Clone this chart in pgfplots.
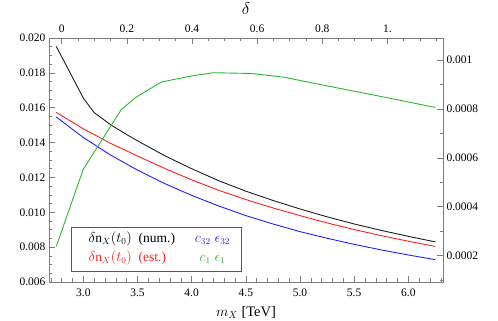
\documentclass[border=0pt]{standalone}
\usepackage{fontspec}
\setmainfont{Liberation Serif}
\usepackage{pgfplots}
\pgfplotsset{compat=1.18}
\definecolor{cgreen}{RGB}{40,185,40}
\definecolor{cred}{RGB}{255,30,30}
\definecolor{cblue}{RGB}{30,30,255}
\definecolor{cblack}{RGB}{30,30,30}
\definecolor{framec}{RGB}{125,125,125}
\pgfplotsset{
  common/.style={
    scale only axis, width=394bp, height=244bp,
    scaled ticks=false,
    axis line style={framec, line width=0.7bp},
    tick style={framec, line width=0.6bp},
    major tick length=6bp, minor tick length=3.5bp,
    tick align=inside,
    /pgf/number format/assume math mode=true,
    ticklabel style={font=\fontsize{11.5bp}{13bp}\selectfont, text=black},
    label style={font=\fontsize{14.5bp}{16bp}\selectfont},
  }
}
\begin{document}
\begin{tikzpicture}
\begin{axis}[common,
  name=main,
  xmin=2.683, xmax=6.32, ymin=0.006, ymax=0.020,
  tick pos=left,
  xtick={3,3.5,4,4.5,5,5.5,6},
  xticklabels={3.0,3.5,4.0,4.5,5.0,5.5,6.0},
  minor xtick={2.7,2.8,2.9,3.1,3.2,3.3,3.4,3.6,3.7,3.8,3.9,4.1,4.2,4.3,4.4,4.6,4.7,4.8,4.9,5.1,5.2,5.3,5.4,5.6,5.7,5.8,5.9,6.1,6.2,6.3},
  ytick={0.006,0.008,0.010,0.012,0.014,0.016,0.018,0.020},
  yticklabels={0.006,0.008,0.010,0.012,0.014,0.016,0.018,0.020},
  minor y tick num=3,
  xticklabel style={yshift=-3bp},
  xlabel={$m_X$ [TeV]},
  xlabel style={at={(axis description cs:0.5,-0.142)}, anchor=base},
]
\addplot[cblack, line width=0.9bp] coordinates {
(2.75,0.01952) (3.0,0.01655) (3.1,0.01572) (3.25,0.01503) (3.4,0.01446) (3.5,0.01410)
(3.75,0.01325) (4.0,0.01250) (4.25,0.01181) (4.5,0.01121) (4.75,0.01068) (5.0,0.01019)
(5.25,0.00974) (5.5,0.00933) (5.75,0.00896) (6.0,0.00862) (6.25,0.00830)};
\addplot[cred, line width=0.9bp] coordinates {
(2.75,0.01573) (3.0,0.01479) (3.25,0.01396) (3.5,0.01323) (3.75,0.01252) (4.0,0.01186)
(4.25,0.01126) (4.5,0.01073) (4.75,0.01025) (5.0,0.00981) (5.25,0.00939) (5.5,0.00901)
(5.75,0.00866) (6.0,0.00834) (6.25,0.00804)};
\addplot[cblue, line width=0.9bp] coordinates {
(2.75,0.01547) (3.0,0.01429) (3.25,0.01329) (3.5,0.01242) (3.75,0.01165) (4.0,0.01097)
(4.25,0.01036) (4.5,0.00981) (4.75,0.00933) (5.0,0.00889) (5.25,0.00851) (5.5,0.00816)
(5.75,0.00784) (6.0,0.00755) (6.25,0.00728)};
\draw[black!65, line width=0.9bp, fill=white] (axis description cs:0.0566,0.045) rectangle (axis description cs:0.489,0.2254);
\node[anchor=base west, font=\fontsize{13.5bp}{15bp}\selectfont, text=black] at (axis description cs:0.0914,0.161) {$\delta\mathrm{n}_X(t_0)$\ \ (num.)};
\node[anchor=base west, font=\fontsize{13.5bp}{15bp}\selectfont, text=cred] at (axis description cs:0.0914,0.0832) {$\delta\mathrm{n}_X(t_0)$\ \ (est.)};
\node[anchor=base, font=\fontsize{13.5bp}{15bp}\selectfont, text=cblue] at (axis description cs:0.415,0.161) {$c_{32}\;\epsilon_{32}$};
\node[anchor=base, font=\fontsize{13.5bp}{15bp}\selectfont, text=cgreen] at (axis description cs:0.415,0.0832) {$c_{1}\;\epsilon_{1}$};
\end{axis}
\begin{axis}[common,
  xmin=2.683, xmax=6.32, ymin=0.0000925, ymax=0.00109,
  xtick=\empty, ytick pos=right,
  ytick={0.0002,0.0004,0.0006,0.0008,0.001},
  yticklabels={0.0002,0.0004,0.0006,0.0008,0.001},
  minor ytick={0.0001,0.0003,0.0005,0.0007,0.0009},
  yticklabel style={anchor=west},
]
\addplot[cgreen, line width=0.9bp] coordinates {
(2.75,0.000238) (3.0,0.000554) (3.35,0.000797) (3.48,0.000846) (3.72,0.000910)
(4.0,0.000935) (4.2,0.000948) (4.55,0.000945) (4.85,0.000930) (5.15,0.000903)
(5.46,0.000876) (5.77,0.000849) (6.25,0.000806)};
\end{axis}
\begin{axis}[common,
  xmin=-0.039, xmax=1.171, ymin=0, ymax=1,
  ytick=\empty, xtick pos=right,
  xtick={0,0.2,0.4,0.6,0.8,1},
  xticklabels={0,0.2,0.4,0.6,0.8,1.},
  minor xtick={0.05,0.1,0.15,0.25,0.3,0.35,0.45,0.5,0.55,0.65,0.7,0.75,0.85,0.9,0.95,1.05,1.1,1.15},
  xticklabel style={yshift=2bp},
  xlabel={$\delta$},
  xlabel style={at={(axis description cs:0.5,1.098)}, anchor=base, font=\fontsize{16bp}{18bp}\selectfont},
]
\end{axis}
\pgfresetboundingbox
\path ([shift={(-49bp,-39bp)}]main.south west) rectangle ([shift={(55bp,38bp)}]main.north east);
\end{tikzpicture}
\end{document}
